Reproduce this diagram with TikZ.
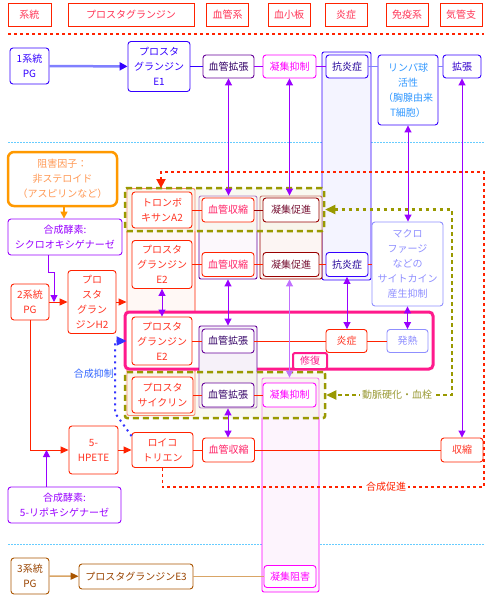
\documentclass[tikz,border=0pt]{standalone}
\usepackage{fontspec}
\setmainfont{Noto Sans CJK JP}
\usetikzlibrary{arrows.meta}

\definecolor{hdrred}{HTML}{FF2200}
\definecolor{hdrtext}{HTML}{FF3355}
\definecolor{pgblue}{HTML}{3300FF}
\definecolor{lineblue}{HTML}{8080FF}
\definecolor{vpurple}{HTML}{660099}
\definecolor{vtext}{HTML}{330066}
\definecolor{arrpurple}{HTML}{9900FF}
\definecolor{lightpurple}{HTML}{C070FF}
\definecolor{magc}{HTML}{FF00FF}
\definecolor{lymtext}{HTML}{3399FF}
\definecolor{aiftext}{HTML}{220099}
\definecolor{diltext}{HTML}{3300CC}
\definecolor{pgred}{HTML}{FF2200}
\definecolor{redtext}{HTML}{FF3322}
\definecolor{pinktext}{HTML}{FF2266}
\definecolor{darkred}{HTML}{990000}
\definecolor{darkredtext}{HTML}{771133}
\definecolor{macroc}{HTML}{8F8FFF}
\definecolor{orangec}{HTML}{FF9900}
\definecolor{orangetext}{HTML}{FF9955}
\definecolor{olivec}{HTML}{999900}
\definecolor{olivetext}{HTML}{999933}
\definecolor{repairpink}{HTML}{FF1A8C}
\definecolor{brownc}{HTML}{AA5500}
\definecolor{browntext}{HTML}{994400}
\definecolor{tanline}{HTML}{D9A566}
\definecolor{sepblue}{HTML}{66CCFF}
\definecolor{dotblue}{HTML}{3333FF}
\definecolor{lblblue}{HTML}{3366FF}
\definecolor{aifill}{HTML}{F4F4FF}
\definecolor{pgfill}{HTML}{FFF8F5}
\definecolor{vfillA}{HTML}{FCF8FC}
\definecolor{vfillB}{HTML}{F6F1F9}
\definecolor{apfill}{HTML}{FCF5F3}
\definecolor{magfill}{HTML}{FDF4FD}

\tikzset{
  sz/.style 2 args={minimum width=#1pt, minimum height=#2pt},
  hdr/.style={rectangle, draw=hdrred, text=hdrtext, line width=0.9pt, inner sep=0pt, minimum height=23pt},
  box/.style={rectangle, rounded corners=3pt, fill=white, line width=0.9pt, align=center, inner sep=0pt},
  bluebox/.style={box, draw=pgblue, text=pgblue},
  redbox/.style={box, draw=pgred, text=redtext},
  vdbox/.style={box, draw=vpurple, text=vtext, sz={52}{24}},
  vcbox/.style={box, draw=pgred, text=pinktext, sz={52}{24}},
  apbox/.style={box, draw=darkred, text=darkredtext, sz={56}{24}},
  aibox/.style={box, draw=magc, text=magc, sz={53}{24}},
  aifbox/.style={box, draw=pgblue, text=aiftext, sz={42}{24}},
  macbox/.style={box, draw=macroc, text=macroc},
  enzbox/.style={box, draw=arrpurple, text=arrpurple},
  brownbox/.style={box, draw=brownc, text=browntext},
  grp/.style={rectangle, rounded corners=2pt, line width=0.9pt, inner sep=0pt},
  olgrp/.style={grp, draw=olivec, line width=2.5pt, dash pattern=on 6pt off 4pt, fill=olivec!10, fill opacity=0.5},
  pinkgrp/.style={grp, draw=repairpink, line width=3pt, rounded corners=4pt, fill=white},
  linkarrow/.style={arrpurple, line width=1pt, {Triangle[length=7pt,width=7pt]}-{Triangle[length=7pt,width=7pt]}},
  redarrow/.style={pgred, line width=1pt, -{Triangle[length=8pt,width=7pt]}},
  enzarrow/.style={arrpurple, line width=1pt, -{Triangle[length=7pt,width=7pt]}},
  rowline/.style={pgred, line width=0.8pt},
  reddot/.style={pgred, line width=1.8pt, dash pattern=on 3pt off 3pt, -{Triangle[length=9pt,width=9pt]}},
  olivedot/.style={olivec, line width=2.2pt, dash pattern=on 3.5pt off 3.5pt, {Triangle[length=10pt,width=9pt]}-{Triangle[length=10pt,width=9pt]}},
  bluedot/.style={dotblue, line width=2pt, dash pattern=on 2pt off 4pt, -{Triangle[length=10pt,width=9pt]}},
}

\begin{document}
\begin{tikzpicture}[x=1pt, y=-1pt, font=\fontsize{10}{15}\selectfont]
\fill[white] (0,0) rectangle (492,606);
\useasboundingbox (0,0) rectangle (492,606);

% header row
\node[hdr, minimum width=43pt] (hsys) at (29.5,14.5) {系統};
\node[hdr, minimum width=126pt] (hpg) at (131,14.5) {プロスタグランジン};
\node[hdr, minimum width=42pt] (hvas) at (227.5,14.5) {血管系};
\node[hdr, minimum width=42pt] (hplt) at (289,14.5) {血小板};
\node[hdr, minimum width=42pt] (hinf) at (346,14.5) {炎症};
\node[hdr, minimum width=42pt] (himm) at (407,14.5) {免疫系};
\node[hdr, minimum width=42pt] (hbr) at (461,14.5) {気管支};

% separators
\draw[hdrred, line width=1.2pt, dash pattern=on 3pt off 3pt] (8,34) -- (484,34);
\draw[sepblue, line width=0.8pt, dash pattern=on 1.5pt off 1.5pt] (8,142) -- (484,142);
\draw[sepblue, line width=0.8pt, dash pattern=on 1.5pt off 1.5pt] (8,544) -- (484,544);

% groups
\node[grp, draw=pgblue, fill=aifill, sz={49}{228}] (aicol) at (346.5,166) {};
\node[grp, draw=pgred, fill=pgfill, sz={68}{227}] (pggrp) at (161,302) {};
\node[grp, draw=vpurple, fill=vfillA, sz={58}{83}] (vgrpA) at (228,237.5) {};
\node[grp, draw=darkred, fill=apfill, sz={62}{83}] (agrp) at (291,237.5) {};
\node[grp, draw=magc, fill=magfill, sz={57}{214}] (mcol) at (290.5,485) {};
\node[olgrp, sz={199}{43}] (olA) at (224.5,209.5) {};
\node[pinkgrp, sz={308}{57}] (pkgrp) at (279,340.5) {};
\node[grp, draw=vpurple, fill=vfillB, sz={58}{82}] (vgrpB) at (228,367) {};
\node[olgrp, sz={200}{46}] (olB) at (225,395) {};

% 1系統
\node[bluebox, sz={39}{36}] (pg1) at (29.5,66) {1系統\\PG};
\node[bluebox, sz={62}{50}] (pge1) at (159,66.5) {プロスタ\\グランジン\\E1};
\node[vdbox, sz={51}{23}] (vd1) at (228.5,66.5) {血管拡張};
\node[aibox, sz={53}{23}] (ai1) at (289.5,66.5) {凝集抑制};
\node[aifbox, sz={42}{23}] (aif1) at (347,66.5) {抗炎症};
\node[bluebox, text=lymtext, sz={60}{70}] (lym) at (408,90) {リンパ球\\活性\\（胸腺由来\\T細胞）};
\node[bluebox, text=diltext, sz={38}{23}] (dil1) at (462,66.5) {拡張};

% 2系統
\node[box, draw=orangec, text=orangetext, line width=2.5pt, rounded corners=6pt, sz={109}{54}] (inhib) at (62.5,179) {阻害因子：\\非ステロイド\\（アスピリンなど）};
\node[enzbox, sz={114}{36}] (cox) at (65,237) {合成酵素:\\シクロオキシゲナーゼ};
\node[redbox, sz={38}{36}] (pg2) at (30,302) {2系統\\PG};
\node[redbox, sz={48}{63}] (pgh2) at (92,302) {プロ\\スタ\\グラン\\ジンH2};
\node[redbox, sz={49}{48}] (hpete) at (93.5,450) {5-\\HPETE};
\node[enzbox, sz={113}{36}] (lox) at (64.5,505) {合成酵素:\\5-リポキシゲナーゼ};

\node[redbox, sz={60}{36}] (txa) at (162,210) {トロンボ\\キサンA2};
\node[vcbox] (vc1) at (228,210) {血管収縮};
\node[apbox] (ap1) at (291,210) {凝集促進};

\node[redbox, sz={60}{48}] (pgeA) at (162,264.5) {プロスタ\\グランジン\\E2};
\node[vcbox] (vc2) at (228,264.5) {血管収縮};
\node[apbox] (ap2) at (291,264.5) {凝集促進};
\node[aifbox] (aif2) at (347,264.5) {抗炎症};
\node[macbox, sz={71}{84}] (mac) at (407.5,264) {マクロ\\ファージ\\などの\\サイトカイン\\産生抑制};

\node[redbox, sz={60}{48}] (pgeB) at (162,341) {プロスタ\\グランジン\\E2};
\node[vdbox] (vd2) at (228,341) {血管拡張};
\node[redbox, sz={41}{23}] (infl) at (346.5,341) {炎症};
\node[macbox, sz={41}{23}] (fev) at (407.5,341) {発熱};
\node[box, draw=repairpink, text=repairpink, line width=2pt, rounded corners=2pt, sz={34}{16}] (rep) at (310,361) {修復};

\node[redbox, sz={61}{36}] (pgi) at (162.5,395) {プロスタ\\サイクリン};
\node[vdbox] (vd3) at (228,395) {血管拡張};
\node[aibox] (ai2) at (289.5,395) {凝集抑制};

\node[redbox, sz={61}{35}] (lt) at (162.5,450) {ロイコ\\トリエン};
\node[vcbox] (vc3) at (228.5,450) {血管収縮};
\node[redbox, sz={42}{24}] (con) at (462,450) {収縮};

% 3系統
\node[brownbox, sz={38}{36}] (pg3) at (30,576) {3系統\\PG};
\node[brownbox, sz={114}{25}] (pge3) at (136,576.5) {プロスタグランジンE3};
\node[aibox, sz={52}{22}] (ai3) at (290,576.5) {凝集阻害};

% row lines
\draw[lineblue, line width=2.5pt, -{Triangle[length=8pt,width=8pt,color=pgblue]}] (pg1) -- (pge1);
\draw[pgblue, line width=0.8pt] (pge1) -- (vd1);
\draw[arrpurple, line width=0.8pt] (vd1) -- (ai1) -- (aif1);
\draw[lineblue, line width=0.8pt] (aif1) -- (aif1 -| lym.west);
\draw[lineblue, line width=0.8pt] (lym.east |- dil1) -- (dil1);
\draw[rowline] (txa) -- (vc1);
\draw[darkred, line width=0.8pt] (vc1) -- (ap1);
\draw[rowline] (pgeA) -- (vc2) -- (ap2) -- (aif2);
\draw[rowline] (aif2.east) -- (aif2.east -| mac.west);
\draw[rowline] (pgeB) -- (vd2) -- (infl) -- (fev);
\draw[rowline] (pgi) -- (vd3) -- (ai2);
\draw[rowline] (lt) -- (vc3) -- (con);
\draw[tanline, line width=1.2pt] (pge3) -- (ai3);

% links
\draw[linkarrow] (vd1) -- (vd1 |- vgrpA.north);
\draw[linkarrow] (ai1) -- (ai1 |- agrp.north);
\draw[linkarrow] (lym.south) -- (lym.south |- mac.north);
\draw[linkarrow] (dil1) -- (con);
\draw[linkarrow] (pgeA) -- (pgeB);
\draw[linkarrow] (vgrpA) -- (vgrpB);
\draw[linkarrow] (aif2.south) -- (aif2.south |- infl.north);
\draw[linkarrow] (mac) -- (fev);
\draw[linkarrow, lightpurple] (agrp.south -| ai2) -- (ai2 |- mcol.north);
\draw[linkarrow] (vgrpB.south) -- (vgrpB.south |- vc3.north);

% synthesis
\draw[orangec, line width=1.5pt, -{Triangle[length=7pt,width=7pt]}] ([xshift=1.5pt]inhib.south) -- ([xshift=1.5pt]inhib.south |- cox.north);
\coordinate (cxk) at (54,272);
\draw[enzarrow] ([xshift=-17pt]cox.south) |- (cxk) -- (cxk |- pg2.east);
\draw[redarrow] (pg2) -- (pgh2);
\draw[redarrow] (pgh2) -- (pggrp);
\draw[redarrow] (pg2.south) |- (hpete.west);
\draw[redarrow] (hpete) -- (lt);
\draw[enzarrow] ([xshift=-18pt]lox.north) -- ([xshift=-18pt]lox.north |- hpete.west);
\draw[tanline, line width=1.5pt, -{Triangle[length=8pt,width=7pt,color=brownc]}] (pg3) -- (pge3);

% feedback
\coordinate (lpA) at (484,487);
\coordinate (lpB) at (484,172);
\draw[reddot] (lt.south) |- (lpA) -- (lpB) -| (pggrp.north);
\node[fill=white, text=pgred, inner sep=2pt] (lblpro) at (386,487) {合成促進};

\coordinate (olk) at (452,395);
\draw[olivedot] (olA.east) -| (olk) -- (olB.east);
\node[fill=white, text=olivetext, inner sep=2pt] (lblath) at (397,395) {動脈硬化・血栓};

\coordinate (bdk) at (115,413);
\draw[bluedot] ([yshift=-4pt]lt.north west) -- (bdk) |- (pggrp.west |- pgeB.west);
\node[text=lblblue] (lblinh) at (94,374) {合成抑制};
\end{tikzpicture}
\end{document}
